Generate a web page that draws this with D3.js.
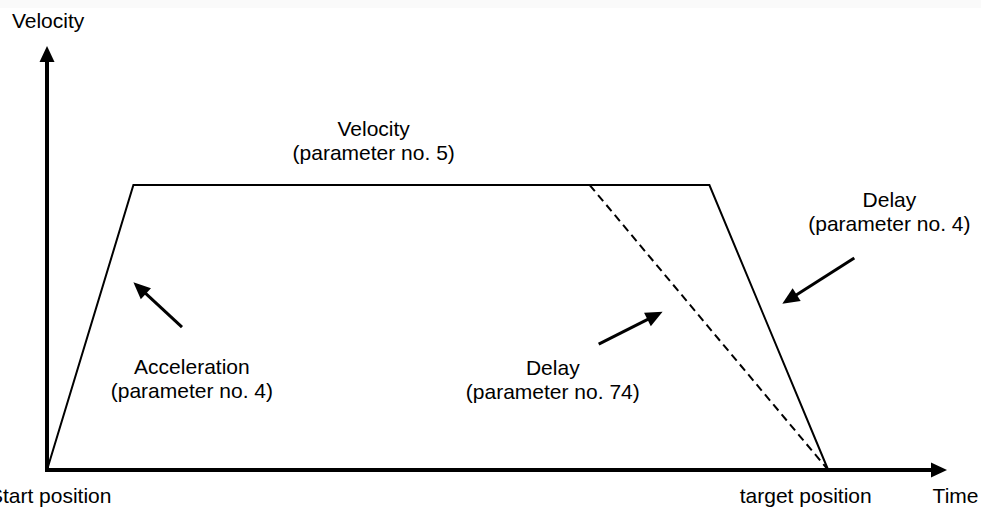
<!DOCTYPE html>
<html>
<head>
<meta charset="utf-8">
<script src="https://cdn.jsdelivr.net/npm/d3@7"></script>
<style>
  body { margin: 0; background: #fff; }
  text { font-family: "Liberation Sans", Arial, sans-serif; font-size: 21px; fill: #000; }
</style>
</head>
<body>
<script>
// velocity profile (time units, velocity units)
var profileTime = [0, 9.6, 73.6, 86.8];
var profileVel = [0, 67.2, 67.2, 0];
// dashed deceleration with parameter 74
var altTime = [60.3, 86.8];
var altVel = [67.2, 0];

// annotation arrows: tail -> head
var arrowTail = [[15, 33.7], [61.3, 29.7], [89.7, 50]];
var arrowHead = [[9.6, 44.3], [68.4, 37.3], [81.7, 39.2]];

// annotation labels
var labelLines = [
    ["Velocity", "(parameter no. 5)"],
    ["Delay", "(parameter no. 4)"],
    ["Acceleration", "(parameter no. 4)"],
    ["Delay", "(parameter no. 74)"]
];
var labelPos = [[36.3, 78.8], [93.6, 62.0], [16.1, 22.6], [56.2, 22.4]];

var width = 981, height = 509;

var svg = d3.select("body").append("svg")
    .attr("width", width)
    .attr("height", height);

svg.append("rect")
    .attr("width", width)
    .attr("height", 8)
    .attr("fill", "#fafafa");

var xscale = d3.scaleLinear().domain([0, 100]).range([47, 947]);
var yscale = d3.scaleLinear().domain([0, 100]).range([470, 46]);

// arrow head helper
function head(x1, y1, x2, y2, len, w) {
    var a = Math.atan2(y2 - y1, x2 - x1);
    var bx = x2 - len * Math.cos(a), by = y2 - len * Math.sin(a);
    var nx = -Math.sin(a) * w / 2, ny = Math.cos(a) * w / 2;
    return [[x2, y2], [bx + nx, by + ny], [bx - nx, by - ny]];
}

// axes
var x0 = xscale(0), y0 = yscale(0);
svg.append("line")
    .attr("x1", x0).attr("y1", y0 + 2)
    .attr("x2", x0).attr("y2", yscale(100) + 12)
    .attr("stroke", "#000").attr("stroke-width", 4);
svg.append("polygon")
    .attr("points", head(x0, y0, x0, yscale(100), 16, 15).join(" "));
svg.append("line")
    .attr("x1", x0 - 2).attr("y1", y0)
    .attr("x2", xscale(100) - 12).attr("y2", y0)
    .attr("stroke", "#000").attr("stroke-width", 4);
svg.append("polygon")
    .attr("points", head(x0, y0, xscale(100), y0, 16, 15).join(" "));

var line = d3.line()
    .x(function(d) { return xscale(d[0]); })
    .y(function(d) { return yscale(d[1]); });

svg.append("path")
    .datum(d3.zip(profileTime, profileVel))
    .attr("fill", "none")
    .attr("stroke", "#000")
    .attr("stroke-width", 2)
    .attr("d", line);

svg.append("path")
    .datum(d3.zip(altTime, altVel))
    .attr("fill", "none")
    .attr("stroke", "#000")
    .attr("stroke-width", 2)
    .attr("stroke-dasharray", "8,5")
    .attr("d", line);

// annotation arrows
arrowTail.forEach(function(t, i) {
    var h = arrowHead[i];
    var x1 = xscale(t[0]), y1 = yscale(t[1]), x2 = xscale(h[0]), y2 = yscale(h[1]);
    var a = Math.atan2(y2 - y1, x2 - x1);
    svg.append("line")
        .attr("x1", x1).attr("y1", y1)
        .attr("x2", x2 - 10 * Math.cos(a)).attr("y2", y2 - 10 * Math.sin(a))
        .attr("stroke", "#000").attr("stroke-width", 3);
    svg.append("polygon")
        .attr("points", head(x1, y1, x2, y2, 17, 15).join(" "));
});

// labels
labelLines.forEach(function(lines, i) {
    var t = svg.append("text")
        .attr("text-anchor", "middle")
        .attr("x", xscale(labelPos[i][0]))
        .attr("y", yscale(labelPos[i][1]) - 24);
    lines.forEach(function(s, j) {
        t.append("tspan")
            .attr("x", xscale(labelPos[i][0]))
            .attr("dy", 24)
            .text(s);
    });
});

// axis titles and position labels
svg.append("text").attr("x", xscale(-3.9)).attr("y", yscale(104.2)).text("Velocity");
svg.append("text").attr("x", xscale(98.4)).attr("y", yscale(-7.8)).text("Time");
svg.append("text").attr("text-anchor", "middle")
    .attr("x", xscale(0.35)).attr("y", yscale(-7.8)).text("Start position");
svg.append("text").attr("text-anchor", "middle")
    .attr("x", xscale(84.3)).attr("y", yscale(-7.8)).text("target position");
</script>
</body>
</html>
